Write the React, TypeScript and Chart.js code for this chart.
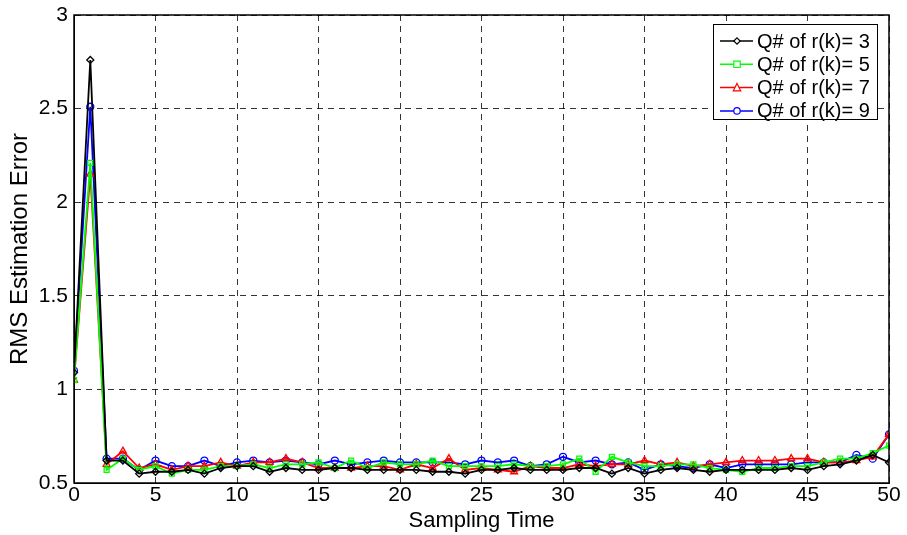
import React, { useEffect, useRef } from "react";
import { Chart, registerables } from "chart.js";

Chart.register(...registerables);

const samplingTime = Array.from({ length: 51 }, (_, i) => i);

const seriesLabels = ["Q# of r(k)= 3", "Q# of r(k)= 5", "Q# of r(k)= 7", "Q# of r(k)= 9"];

const q3 = [1.09, 2.76, 0.62, 0.62, 0.55, 0.56, 0.56, 0.57, 0.55, 0.58, 0.59, 0.59, 0.56, 0.58, 0.57, 0.57, 0.58, 0.58, 0.57, 0.57, 0.57, 0.57, 0.56, 0.56, 0.55, 0.57, 0.57, 0.58, 0.57, 0.57, 0.57, 0.58, 0.58, 0.55, 0.58, 0.55, 0.57, 0.58, 0.57, 0.56, 0.57, 0.57, 0.57, 0.57, 0.58, 0.57, 0.59, 0.60, 0.62, 0.65, 0.61];
const q5 = [1.05, 2.21, 0.57, 0.63, 0.57, 0.59, 0.55, 0.57, 0.57, 0.59, 0.59, 0.60, 0.58, 0.60, 0.60, 0.61, 0.58, 0.62, 0.58, 0.61, 0.60, 0.60, 0.62, 0.59, 0.59, 0.59, 0.59, 0.60, 0.59, 0.59, 0.60, 0.63, 0.56, 0.64, 0.61, 0.59, 0.59, 0.60, 0.60, 0.58, 0.57, 0.56, 0.58, 0.58, 0.59, 0.59, 0.61, 0.63, 0.63, 0.66, 0.70];
const q7 = [1.05, 2.15, 0.60, 0.67, 0.58, 0.60, 0.57, 0.59, 0.59, 0.61, 0.59, 0.61, 0.61, 0.63, 0.61, 0.58, 0.58, 0.58, 0.59, 0.59, 0.57, 0.60, 0.58, 0.63, 0.57, 0.58, 0.57, 0.56, 0.59, 0.58, 0.58, 0.60, 0.59, 0.60, 0.60, 0.62, 0.60, 0.61, 0.59, 0.60, 0.61, 0.62, 0.62, 0.62, 0.63, 0.63, 0.61, 0.61, 0.62, 0.64, 0.76];
const q9 = [1.10, 2.51, 0.63, 0.63, 0.57, 0.62, 0.59, 0.59, 0.62, 0.59, 0.61, 0.62, 0.61, 0.62, 0.61, 0.60, 0.62, 0.60, 0.61, 0.62, 0.61, 0.61, 0.61, 0.61, 0.60, 0.62, 0.61, 0.62, 0.59, 0.60, 0.64, 0.61, 0.62, 0.60, 0.61, 0.57, 0.60, 0.59, 0.58, 0.60, 0.58, 0.60, 0.60, 0.60, 0.60, 0.61, 0.61, 0.61, 0.65, 0.63, 0.76];

const seriesValues = [q3, q5, q7, q9];
const seriesColors = ["#000000", "#00ff00", "#ff0000", "#0000ff"];
const seriesMarkers = ["rectRot", "rect", "triangle", "circle"];
const markerRadius = [3.5, 3.5, 4, 3.5];

const FONT = "'Liberation Sans', Arial, sans-serif";

const framePlugin = {
  id: "frameAndLegend",
  afterDatasetsDraw(chart: any) {
    const { ctx, chartArea } = chart;
    ctx.save();
    ctx.strokeStyle = "#000";
    ctx.lineWidth = 1.5;
    ctx.setLineDash([]);
    ctx.strokeRect(chartArea.left, chartArea.top, chartArea.right - chartArea.left, chartArea.bottom - chartArea.top);

    // legend box
    const bx = 713, by = 24, bw = 164, bh = 95;
    ctx.fillStyle = "#fff";
    ctx.fillRect(bx, by, bw, bh);
    ctx.lineWidth = 1;
    ctx.strokeRect(bx + 0.5, by + 0.5, bw, bh);
    ctx.font = `20px ${FONT}`;
    ctx.textBaseline = "middle";
    chart.data.datasets.forEach((ds: any, i: number) => {
      const y = 41 + i * 23.3;
      ctx.strokeStyle = ds.borderColor;
      ctx.lineWidth = 1.5;
      ctx.beginPath();
      ctx.moveTo(720, y);
      ctx.lineTo(753, y);
      ctx.stroke();
      ctx.lineWidth = 1.2;
      ctx.strokeStyle = ds.borderColor;
      const cx = 737;
      const r = 3.2;
      ctx.beginPath();
      if (ds.pointStyle === "rectRot") {
        ctx.moveTo(cx, y - r); ctx.lineTo(cx + r, y); ctx.lineTo(cx, y + r); ctx.lineTo(cx - r, y); ctx.closePath();
      } else if (ds.pointStyle === "rect") {
        ctx.rect(cx - r, y - r, 2 * r, 2 * r);
      } else if (ds.pointStyle === "triangle") {
        ctx.moveTo(cx, y - r - 1); ctx.lineTo(cx + r + 0.5, y + r); ctx.lineTo(cx - r - 0.5, y + r); ctx.closePath();
      } else {
        ctx.arc(cx, y, r, 0, Math.PI * 2);
      }
      ctx.fillStyle = "#fff";
      ctx.fill();
      ctx.stroke();
      ctx.fillStyle = "#000";
      ctx.fillText(ds.label, 757, y + 1);
    });
    ctx.restore();
  },
};

export default function App() {
  const ref = useRef<HTMLCanvasElement | null>(null);
  useEffect(() => {
    document.body.style.margin = "0";
    if (!ref.current) return;
    const chart = new Chart(ref.current, {
      type: "line",
      data: {
        labels: samplingTime,
        datasets: seriesValues.map((vals, i) => ({
          label: seriesLabels[i],
          data: vals.map((v, j) => ({ x: samplingTime[j], y: v })),
          borderColor: seriesColors[i],
          backgroundColor: "rgba(0,0,0,0)",
          pointBackgroundColor: "rgba(0,0,0,0)",
          pointBorderColor: seriesColors[i],
          pointStyle: seriesMarkers[i] as any,
          pointRadius: markerRadius[i],
          pointBorderWidth: 1.3,
          borderWidth: 1.8,
          tension: 0,
          fill: false,
        })),
      },
      options: {
        animation: false,
        responsive: false,
        layout: { padding: { top: 15, right: 18, left: 0, bottom: 0 } },
        plugins: {
          legend: { display: false },
          tooltip: { enabled: false },
        },
        scales: {
          x: {
            type: "linear",
            min: 0,
            max: 50,
            ticks: {
              stepSize: 5,
              color: "#000",
              font: { family: FONT, size: 21 },
              padding: 0,
              maxRotation: 0,
            },
            grid: {
              color: "#000",
              lineWidth: 0.8,
              drawTicks: false,
              tickLength: 0,
            },
            border: { display: true, color: "#000", dash: [6, 5] },
            title: {
              display: true,
              text: "Sampling Time",
              color: "#000",
              font: { family: FONT, size: 22 },
              padding: { top: 0, bottom: 1 },
            },
            afterFit(scale: any) {
              scale.height = 52;
              scale.paddingLeft = 0;
              scale.paddingRight = 0;
            },
          },
          y: {
            type: "linear",
            min: 0.5,
            max: 3,
            ticks: {
              stepSize: 0.5,
              color: "#000",
              font: { family: FONT, size: 21 },
              padding: 6,
              callback: (v: any) => String(Number(v)),
            },
            grid: {
              color: "#000",
              lineWidth: 0.8,
              drawTicks: false,
              tickLength: 0,
            },
            border: { display: true, color: "#000", dash: [6, 5] },
            title: {
              display: true,
              text: "RMS Estimation Error",
              color: "#000",
              font: { family: FONT, size: 24 },
              padding: { top: 6, bottom: 0 },
            },
            afterFit(scale: any) {
              scale.width = 74;
              scale.paddingTop = 0;
              scale.paddingBottom = 0;
            },
          },
        },
      } as any,
      plugins: [framePlugin],
    });
    return () => chart.destroy();
  }, []);
  return (
    <div style={{ position: "absolute", left: 0, top: 0, width: 907, height: 535, background: "#fff" }}>
      <canvas ref={ref} width={907} height={535} />
    </div>
  );
}
